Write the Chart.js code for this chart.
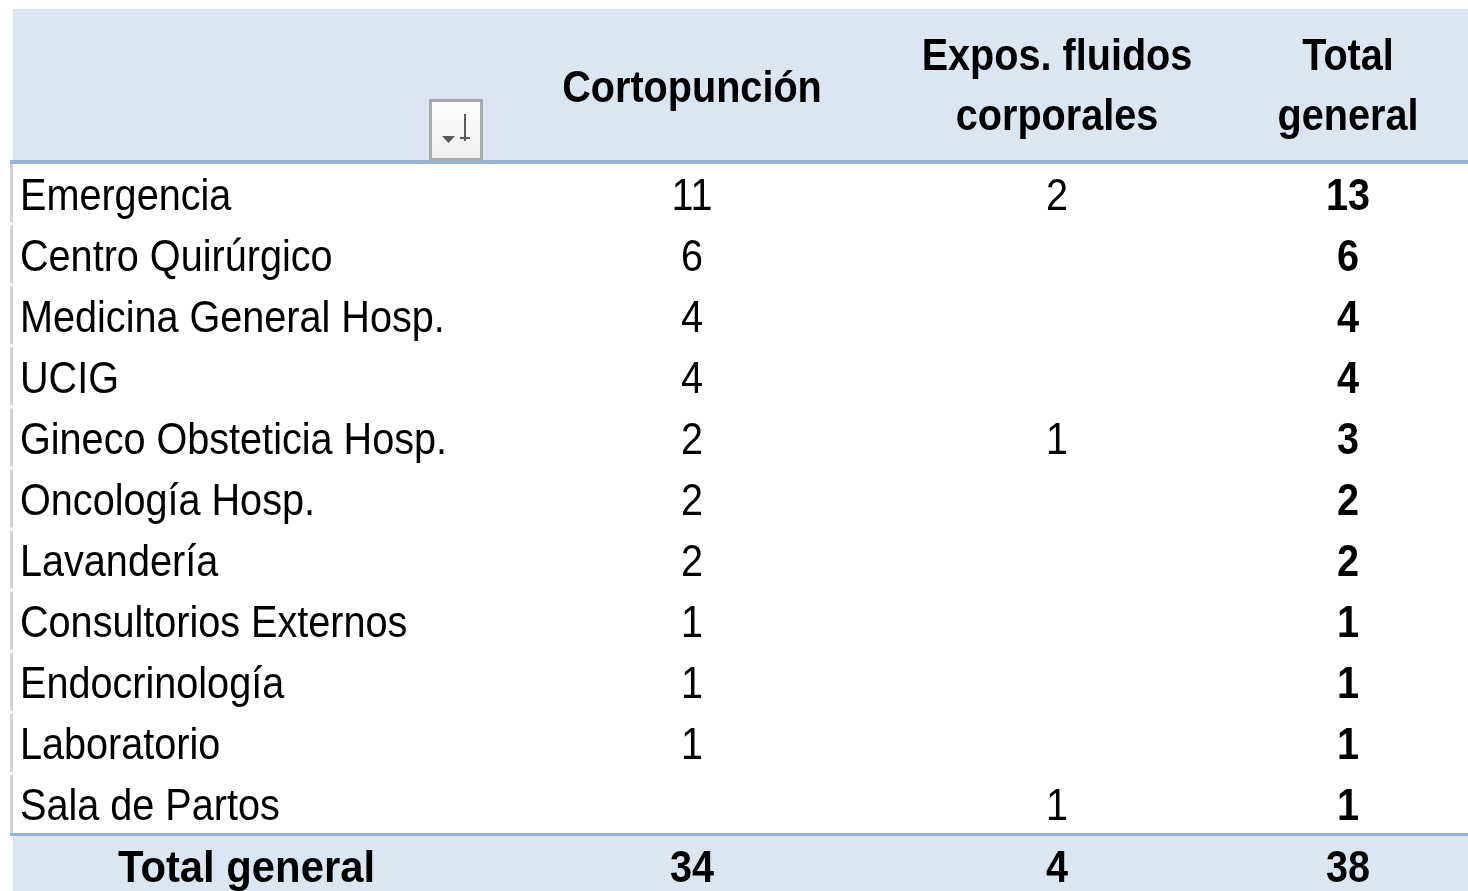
<!DOCTYPE html>
<html>
<head>
<meta charset="utf-8">
<script src="https://cdn.jsdelivr.net/npm/chart.js@4.4.1/dist/chart.umd.min.js"></script>
<style>
  html, body { margin: 0; padding: 0; background: #ffffff; }
  #tabla { display: block; }
</style>
</head>
<body>
<canvas id="tabla" width="1468" height="891"></canvas>
<script>
// pivot table data
const rowLabels = [
  "Emergencia",
  "Centro Quirúrgico",
  "Medicina General Hosp.",
  "UCIG",
  "Gineco Obsteticia Hosp.",
  "Oncología Hosp.",
  "Lavandería",
  "Consultorios Externos",
  "Endocrinología",
  "Laboratorio",
  "Sala de Partos",
];
const columnHeaders = [
  ["Cortopunción"],
  ["Expos. fluidos", "corporales"],
  ["Total", "general"],
];
const cortopuncion = [11, 6, 4, 4, 2, 2, 2, 1, 1, 1, null];
const exposFluidos = [2, null, null, null, 1, null, null, null, null, null, 1];
const totalGeneral = [13, 6, 4, 4, 3, 2, 2, 1, 1, 1, 1];
const totalLabel = "Total general";
const grandTotals = [34, 4, 38];

// column widths of the sheet (label column + 3 value columns)
const colWidths = [485, 388, 342, 240];

const colStart = [];
let acc = 0;
colWidths.forEach((w) => { colStart.push(acc); acc += w; });
const colCenter = (i) => colStart[i] + colWidths[i] / 2;
const totalRow = rowLabels.length;

const FONT = "'Liberation Sans', Arial, sans-serif";
const HEADER_BG = "#DCE6F1";
const BLUE_LINE = "#95B3D7";

function cells(values, col, rowOffset = 0) {
  const out = [];
  values.forEach((v, i) => {
    if (v !== null && v !== undefined) {
      out.push({ x: col === 0 ? colStart[0] : colCenter(col), y: i + rowOffset, v: v });
    }
  });
  return out;
}

function drawText(ctx, str, x, y, align, bold, sx = 0.9, size = 44) {
  ctx.save();
  ctx.translate(x, y);
  ctx.scale(sx, 1);
  ctx.font = (bold ? "bold " : "") + size + "px " + FONT;
  ctx.fillStyle = "#000000";
  ctx.textAlign = align;
  ctx.textBaseline = "alphabetic";
  ctx.fillText(str, 0, 0);
  ctx.restore();
}

const tablePlugin = {
  id: "tablePlugin",
  beforeDatasetsDraw(chart) {
    const { ctx, chartArea, scales } = chart;
    const x = scales.x;
    const y = scales.y;
    const left = chartArea.left;
    const right = chartArea.right;
    const top = chartArea.top;

    // header band
    ctx.save();
    ctx.fillStyle = HEADER_BG;
    ctx.fillRect(left, 9, right - left, top - 13);
    ctx.fillStyle = BLUE_LINE;
    ctx.fillRect(left - 3, top - 4, right - left + 3, 4);

    // left border segments per row
    ctx.fillStyle = "#D4D4D4";
    for (let i = 0; i < rowLabels.length; i++) {
      const y0 = y.getPixelForValue(i - 0.5);
      const y1 = y.getPixelForValue(i + 0.5);
      ctx.fillRect(left - 3, y0, 3, y1 - y0 - 3);
    }

    // total row band + line
    const yt = y.getPixelForValue(totalRow - 0.5);
    ctx.fillStyle = BLUE_LINE;
    ctx.fillRect(left - 3, yt - 3, right - left + 3, 3);
    ctx.fillStyle = HEADER_BG;
    ctx.fillRect(left, yt, right - left, chart.height - yt);

    // filter button
    const bx = x.getPixelForValue(colStart[1]) - 69;
    const by = top - 65;
    const grad = ctx.createLinearGradient(0, by, 0, by + 62);
    grad.addColorStop(0, "#FFFFFF");
    grad.addColorStop(1, "#EEEEEE");
    ctx.fillStyle = grad;
    ctx.fillRect(bx, by, 54, 62);
    ctx.strokeStyle = "#A8ABAE";
    ctx.lineWidth = 3;
    ctx.strokeRect(bx + 1.5, by + 1.5, 51, 59);
    ctx.fillStyle = "#5A5A5A";
    ctx.beginPath();
    ctx.moveTo(bx + 13, by + 37);
    ctx.lineTo(bx + 26, by + 37);
    ctx.lineTo(bx + 19.5, by + 44);
    ctx.closePath();
    ctx.fill();
    ctx.fillRect(bx + 35, by + 15, 2, 27);
    ctx.fillRect(bx + 31, by + 38, 10, 2);
    ctx.restore();

    // column headers
    columnHeaders.forEach((lines, i) => {
      const cx = x.getPixelForValue(colCenter(i + 1));
      const mid = (9 + top - 4) / 2;
      const lh = 60;
      lines.forEach((ln, k) => {
        const by2 = mid + 15 + (k - (lines.length - 1) / 2) * lh;
        drawText(ctx, ln, cx, by2 + (lines.length === 1 ? 2 : 0), "center", true);
      });
    });
  },
  afterDatasetsDraw(chart) {
    const { ctx } = chart;
    chart.data.datasets.forEach((ds, di) => {
      const meta = chart.getDatasetMeta(di);
      meta.data.forEach((el, j) => {
        const raw = ds.data[j];
        const base = el.y + 15;
        if (ds.kind === "label") {
          drawText(ctx, raw.v, el.x + 7, base, "left", false);
        } else if (ds.kind === "totalLabel") {
          drawText(ctx, raw.v, el.x - 9, base, "center", true, 0.95);
        } else {
          drawText(ctx, String(raw.v), el.x, base, "center", ds.bold);
        }
      });
    });
  },
};

const ctx = document.getElementById("tabla").getContext("2d");
new Chart(ctx, {
  type: "scatter",
  data: {
    datasets: [
      { kind: "label", data: cells(rowLabels, 0) },
      { kind: "value", bold: false, data: cells(cortopuncion, 1) },
      { kind: "value", bold: false, data: cells(exposFluidos, 2) },
      { kind: "value", bold: true, data: cells(totalGeneral, 3) },
      { kind: "totalLabel", data: [{ x: colCenter(0), y: totalRow, v: totalLabel }] },
      {
        kind: "value",
        bold: true,
        data: grandTotals.map((v, i) => ({ x: colCenter(i + 1), y: totalRow, v: v })),
      },
    ].map((d) => Object.assign({ pointRadius: 0, pointHoverRadius: 0, showLine: false }, d)),
  },
  options: {
    responsive: false,
    animation: false,
    events: [],
    layout: { padding: { top: 164, left: 13, right: 0, bottom: 0 } },
    plugins: { legend: { display: false }, tooltip: { enabled: false } },
    scales: {
      x: { type: "linear", display: false, min: 0, max: acc },
      y: { type: "linear", display: false, reverse: true, min: -0.5, max: totalRow + 0.4 },
    },
  },
  plugins: [tablePlugin],
});
</script>
</body>
</html>
